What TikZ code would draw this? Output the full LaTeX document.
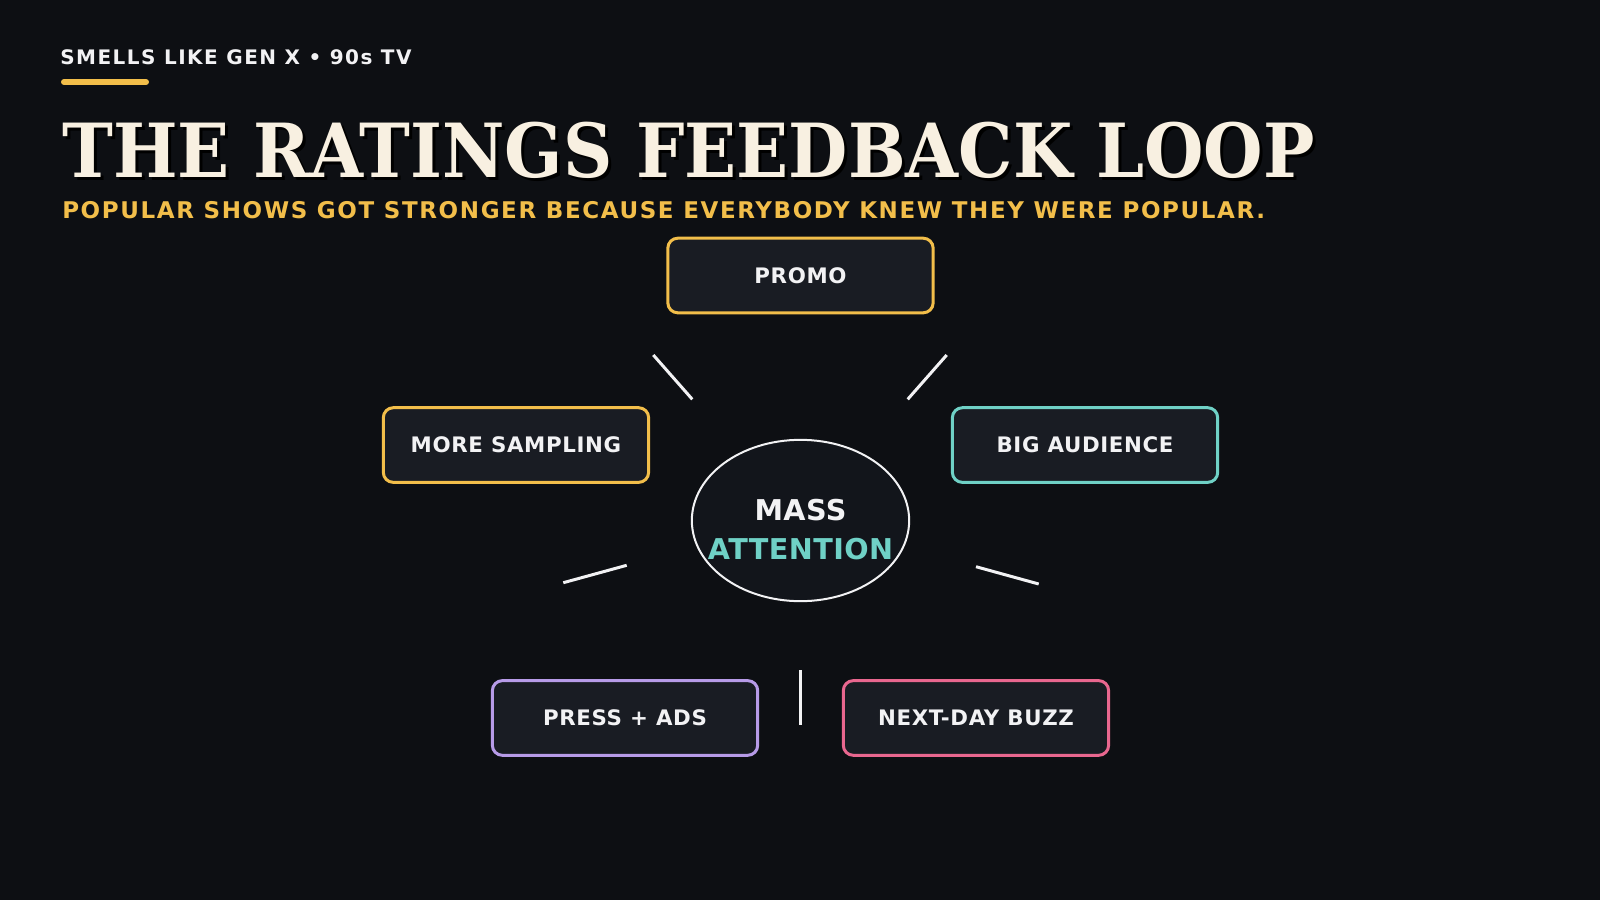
\documentclass[tikz,border=0pt]{standalone}
\usepackage{fontspec}
\setmainfont{DejaVu Sans}
\newfontfamily\titlefont[FakeStretch=0.915]{DejaVu Serif}
\newfontfamily\kickerfont[LetterSpace=7.5]{DejaVu Sans}
\newfontfamily\spacedfont[LetterSpace=7]{DejaVu Sans}
\newfontfamily\boxfont[LetterSpace=3]{DejaVu Sans}
\newfontfamily\hubfont[LetterSpace=1.5]{DejaVu Sans}
\usetikzlibrary{positioning,calc,shapes.geometric}
\definecolor{bg}{HTML}{0D0F13}
\definecolor{boxfill}{HTML}{191C23}
\definecolor{hubfill}{HTML}{12151B}
\definecolor{gold}{HTML}{F2BE4A}
\definecolor{mint}{HTML}{6FD1C6}
\definecolor{lilac}{HTML}{B79BE8}
\definecolor{rose}{HTML}{E9678F}
\definecolor{cream}{HTML}{F8F0E1}
\definecolor{chalk}{HTML}{F2F2F4}

\begin{document}
\begin{tikzpicture}[x=0.75pt,y=-0.75pt,on grid,
	stage/.style={draw=#1,line width=2.25pt,fill=boxfill,rounded corners=7.5pt,
		minimum width=199pt,minimum height=56pt,inner sep=0pt,text=chalk,
		font=\boxfont\bfseries\fontsize{16}{19}\selectfont},
	hub/.style={ellipse,draw=chalk,line width=1.5pt,fill=hubfill,
		minimum width=163pt,minimum height=121pt,inner sep=0pt},
	hubtext/.style={inner sep=0pt,align=center,text=chalk,
		font=\hubfont\bfseries\fontsize{21.5}{29.5}\selectfont},
	spoke/.style={draw=chalk,line width=2.25pt}]
	\path[fill=bg,use as bounding box] (0,0) rectangle (1600,900);
	% header
	\node[anchor=base west,inner sep=0pt,text=chalk,font=\kickerfont\bfseries\fontsize{15}{18}\selectfont] (kicker) at (60,64.3) {SMELLS LIKE GEN X • 90s TV};
	\draw[gold,line width=4.5pt,line cap=round] (64,82) -- (146,82);
	\node[anchor=base west,inner sep=0pt,text=black,font=\titlefont\bfseries\fontsize{56}{60}\selectfont] (shadow) at (65,180) {THE RATINGS FEEDBACK LOOP};
	\node[anchor=base west,inner sep=0pt,text=cream,font=\titlefont\bfseries\fontsize{56}{60}\selectfont] (title) at (62,177) {THE RATINGS FEEDBACK LOOP};
	\node[anchor=base west,inner sep=0pt,text=gold,font=\spacedfont\bfseries\fontsize{17.25}{20}\selectfont] (sub) at (62,218.3) {POPULAR SHOWS GOT STRONGER BECAUSE EVERYBODY KNEW THEY WERE POPULAR.};
	% loop
	\node[hub] (hub) at (800.5,520.5) {};
	\node[hubtext] (hublabel) at ($(hub.center)+(0,9)$) {MASS\\\textcolor{mint}{ATTENTION}};
	\node[stage=gold] (promo) [above=183.75pt of hub] {PROMO};
	\node[stage=gold] (sampling) [above left=56.6pt and 213.4pt of hub] {MORE SAMPLING};
	\node[stage=mint] (audience) [above right=56.6pt and 213.4pt of hub] {BIG AUDIENCE};
	\node[stage=lilac] (press) [below left=148.1pt and 131.6pt of hub] {PRESS + ADS};
	\node[stage=rose] (buzz) [below right=148.1pt and 131.6pt of hub] {NEXT-DAY BUZZ};
	\coordinate (s1a) at (653.3,355);
	\coordinate (s1b) at (692.3,399.3);
	\coordinate (s2a) at (907.7,399.3);
	\coordinate (s2b) at (946.7,355);
	\coordinate (s3a) at (976,566.7);
	\coordinate (s3b) at (1038.7,584);
	\coordinate (s4a) at (800.7,670);
	\coordinate (s4b) at (800.7,725);
	\coordinate (s5a) at (563.3,582.7);
	\coordinate (s5b) at (626.7,565.3);
	\path[spoke]
	(s1a) edge (s1b)
	(s2a) edge (s2b)
	(s3a) edge (s3b)
	(s4a) edge (s4b)
	(s5a) edge (s5b);
\end{tikzpicture}
\end{document}
